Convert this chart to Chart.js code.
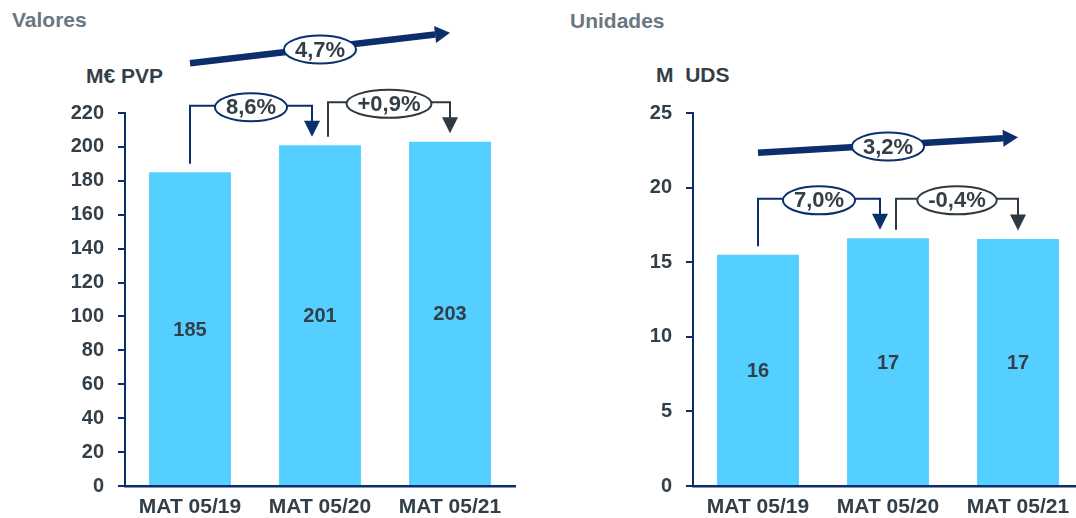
<!DOCTYPE html>
<html><head><meta charset="utf-8">
<script src="https://cdn.jsdelivr.net/npm/chart.js@4.4.1/dist/chart.umd.min.js"></script>
<style>
html,body{margin:0;padding:0;width:1076px;height:518px;overflow:hidden;background:#fff;font-family:"Liberation Sans",Arial,sans-serif;}
.t{position:absolute;font-weight:bold;white-space:pre;line-height:1;font-size:21px;}
.g{color:#6b7780;}
.d{color:#333f48;}
#w1{position:absolute;left:0;top:0;width:538px;height:518px;}
#w2{position:absolute;left:560px;top:0;width:540px;height:518px;}
</style></head><body>
<div class="t g" style="left:12px;top:9px;">Valores</div>
<div class="t g" style="left:570px;top:10px;">Unidades</div>
<div class="t d" style="left:86px;top:65px;">M€ PVP</div>
<div class="t d" style="left:656px;top:64px;">M  UDS</div>
<div id="w1"><canvas id="c1" width="538" height="518"></canvas></div>
<div id="w2"><canvas id="c2" width="540" height="518"></canvas></div>
<script>
// ---- data ----
const categories = ['MAT 05/19', 'MAT 05/20', 'MAT 05/21'];
const valores = [185, 201, 203];
const valoresLabels = ['185', '201', '203'];
const valoresAxis = [0, 220, 20];          // min, max, step
const valoresGrowth = ['8,6%', '+0,9%'];
const valoresCagr = '4,7%';
const unidades = [15.5, 16.6, 16.55];
const unidadesLabels = ['16', '17', '17'];
const unidadesAxis = [0, 25, 5];
const unidadesGrowth = ['7,0%', '-0,4%'];
const unidadesCagr = '3,2%';

const NAVY = '#0b2e6c', GREY = '#2e3a43', TXT = '#333f48', BAR = '#55cfff';
const FONT = '"Liberation Sans", Arial, sans-serif';

function ellipseLabel(ctx, cx, cy, text, color) {
  ctx.font = 'bold 22px ' + FONT;
  const tw = ctx.measureText(text).width;
  ctx.beginPath();
  ctx.ellipse(cx, cy, tw / 2 + 11, 14, 0, 0, Math.PI * 2);
  ctx.fillStyle = '#fff'; ctx.fill();
  ctx.lineWidth = 2; ctx.strokeStyle = color; ctx.stroke();
  ctx.fillStyle = TXT; ctx.textAlign = 'center'; ctx.textBaseline = 'middle';
  ctx.fillText(text, cx, cy + 1);
}
function downArrow(ctx, x, yTip, color) {
  ctx.beginPath();
  ctx.moveTo(x - 8, yTip - 16); ctx.lineTo(x + 8, yTip - 16); ctx.lineTo(x, yTip);
  ctx.closePath(); ctx.fillStyle = color; ctx.fill();
}
function bracket(ctx, x0, y0, yLine, x1, yTip, color, text) {
  ctx.beginPath();
  ctx.moveTo(x0, y0); ctx.lineTo(x0, yLine); ctx.lineTo(x1, yLine); ctx.lineTo(x1, yTip - 15);
  ctx.lineWidth = 2; ctx.strokeStyle = color; ctx.stroke();
  downArrow(ctx, x1, yTip, color);
  ellipseLabel(ctx, (x0 + x1) / 2, yLine + 1.5, text, color);
}

function makeChart(id, values, labels, axis, growth, cagr, areaLeft, padRight, arrowOff) {
  const plugin = {
    id: 'ann' + id,
    afterDatasetsDraw(chart) {
      const ctx = chart.ctx, xs = chart.scales.x, ys = chart.scales.y;
      const cx = values.map((v, i) => xs.getPixelForValue(i));
      const top = values.map(v => ys.getPixelForValue(v));
      const bottom = ys.getPixelForValue(0);
      ctx.save();
      // value labels
      ctx.font = 'bold 20px ' + FONT; ctx.fillStyle = TXT;
      ctx.textAlign = 'center'; ctx.textBaseline = 'middle';
      values.forEach((v, i) => ctx.fillText(labels[i], cx[i], (top[i] + bottom) / 2 + 1));
      const gap = 8.5, rise = 39.5;
      const yl1 = Math.min(top[0], top[1]) - rise;
      bracket(ctx, cx[0], top[0] - gap, yl1, cx[1] - 8, top[1] - gap, NAVY, growth[0]);
      const yl2 = Math.min(top[1], top[2]) - rise;
      bracket(ctx, cx[1] + 8, top[1] - gap, yl2, cx[2], top[2] - gap, GREY, growth[1]);
      // long arrow
      const at = chart.chartArea.top;
      const xa = cx[0], ya = at + arrowOff[0], xb = cx[2], yb = at + arrowOff[1];
      const ang = Math.atan2(yb - ya, xb - xa);
      const hl = 15, hw = 8.5;
      const bx = xb - hl * Math.cos(ang), by = yb - hl * Math.sin(ang);
      ctx.beginPath(); ctx.moveTo(xa, ya); ctx.lineTo(bx, by);
      ctx.lineWidth = 6.5; ctx.strokeStyle = NAVY; ctx.lineCap = 'butt'; ctx.stroke();
      ctx.beginPath();
      ctx.moveTo(xb, yb);
      ctx.lineTo(bx + hw * Math.sin(ang), by - hw * Math.cos(ang));
      ctx.lineTo(bx - hw * Math.sin(ang), by + hw * Math.cos(ang));
      ctx.closePath(); ctx.fillStyle = NAVY; ctx.fill();
      const mx = cx[1], my = ya + (mx - xa) / (xb - xa) * (yb - ya) + 1.5;
      ellipseLabel(ctx, mx, my, cagr, NAVY);
      ctx.restore();
    }
  };
  return new Chart(document.getElementById(id), {
    type: 'bar',
    data: { labels: categories, datasets: [{ data: values, backgroundColor: BAR, borderWidth: 0,
      categoryPercentage: 1, barPercentage: 0.63 }] },
    options: {
      responsive: false, animation: false,
      layout: { padding: { top: 113, right: padRight, left: 0, bottom: 0 } },
      plugins: { legend: { display: false }, tooltip: { enabled: false } },
      scales: {
        x: {
          offset: true,
          grid: { display: false, drawTicks: false },
          border: { display: true, color: NAVY, width: 2.5 },
          ticks: { color: TXT, font: { family: FONT, size: 21, weight: 'bold' }, padding: 9, maxRotation: 0 },
          afterFit(s) { s.height = 32; }
        },
        y: {
          min: axis[0], max: axis[1],
          grid: { drawOnChartArea: false, drawTicks: true, tickLength: 7, color: NAVY, lineWidth: 2 },
          border: { display: true, color: NAVY, width: 2 },
          ticks: { stepSize: axis[2], color: TXT, font: { family: FONT, size: 20, weight: 'bold' }, padding: 14 },
          afterFit(s) { s.width = areaLeft; }
        }
      }
    },
    plugins: [plugin]
  });
}

makeChart('c1', valores, valoresLabels, valoresAxis, valoresGrowth, valoresCagr, 125, 23, [-49.7, -80.3]);
makeChart('c2', unidades, unidadesLabels, unidadesAxis, unidadesGrowth, unidadesCagr, 133, 17, [39.7, 24.3]);
</script>
</body></html>
